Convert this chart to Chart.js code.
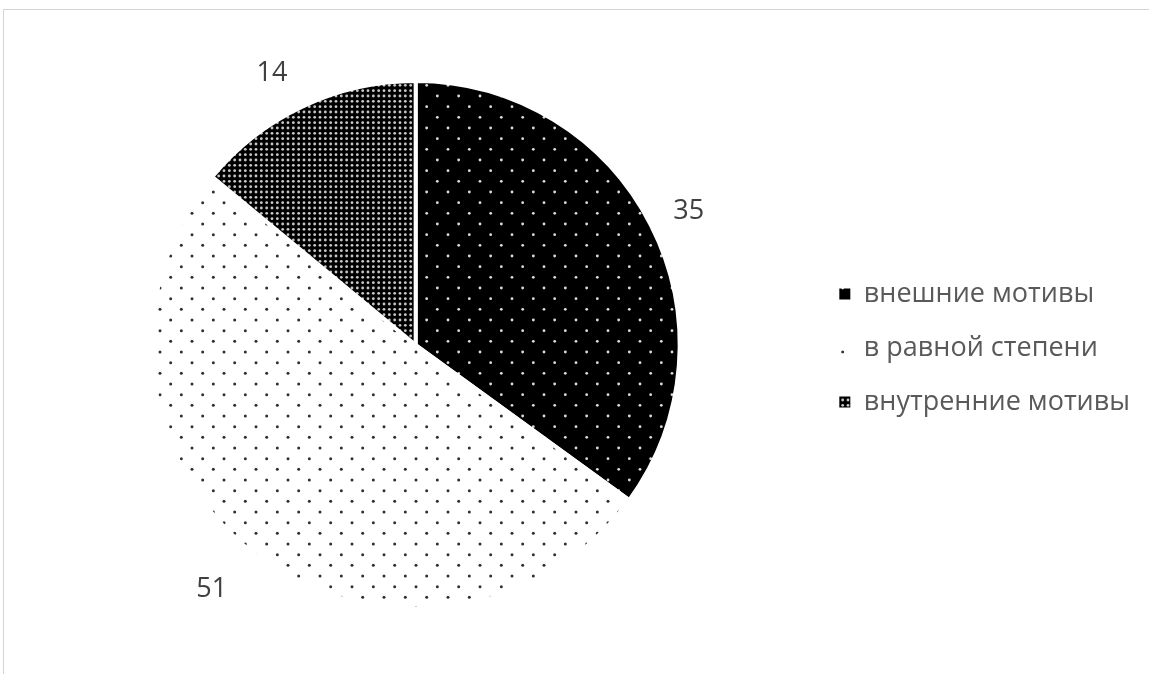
<!DOCTYPE html>
<html>
<head>
<meta charset="utf-8">
<script src="https://cdn.jsdelivr.net/npm/chart.js@4.4.0/dist/chart.umd.min.js"></script>
<style>
    html, body { margin: 0; padding: 0; background: #fff; overflow: hidden; }
    #frame { position: absolute; left: 3px; top: 9px; width: 2000px; height: 2000px; border-top: 1px solid #d4d4d4; border-left: 1px solid #d4d4d4; }
    #wrap { position: absolute; left: 0; top: 0; width: 1149px; height: 674px; }
</style>
</head>
<body>
<div id="frame"></div>
<div id="wrap"><canvas id="myChart" width="1149" height="674"></canvas></div>
<script>
// DATA
const categories = ['внешние мотивы', 'в равной степени', 'внутренние мотивы'];
const values = [35, 51, 14];

// value labels: distance outside the slice edge, and a small turn (degrees)
const labelGap = [40, 54, 43];
const labelTurn = [0.9, 2.1, -2.7];

// pattern fills (dots, like the excel pattern fills)
function makePattern(bg, dot, radius, perTile, staggered) {
    const c = document.createElement('canvas');
    c.width = 64;
    c.height = 64;
    const g = c.getContext('2d');
    g.fillStyle = bg;
    g.fillRect(0, 0, 64, 64);
    g.fillStyle = dot;
    const step = 64 / perTile;
    for (let i = 0; i <= perTile; i++) {
        for (let j = 0; j <= perTile; j++) {
            g.beginPath();
            g.arc(i * step, j * step, radius, 0, Math.PI * 2);
            g.fill();
            if (staggered) {
                g.beginPath();
                g.arc(i * step + step / 2, j * step + step / 2, radius, 0, Math.PI * 2);
                g.fill();
            }
        }
    }
    return g.createPattern(c, 'repeat');
}

const fills = [
    makePattern('#000000', '#dcdcdc', 1.4, 3, true),
    makePattern('#ffffff', '#303030', 1.5, 3, true),
    makePattern('#000000', '#c8c8c8', 1.4, 12, false)
];

// value labels outside the pie
const sliceLabels = {
    id: 'sliceLabels',
    afterDatasetsDraw(chart) {
        const ctx = chart.ctx;
        const meta = chart.getDatasetMeta(0);
        ctx.save();
        ctx.font = '27px "Open Sans"';
        ctx.fillStyle = '#404040';
        ctx.textAlign = 'center';
        ctx.textBaseline = 'middle';
        meta.data.forEach(function (arc, i) {
            const p = arc.getProps(['x', 'y', 'startAngle', 'endAngle', 'outerRadius'], true);
            const mid = (p.startAngle + p.endAngle) / 2 + labelTurn[i] * Math.PI / 180;
            const d = p.outerRadius + labelGap[i];
            ctx.fillText(String(values[i]), p.x + Math.cos(mid) * d, p.y + Math.sin(mid) * d);
        });
        ctx.restore();
    }
};

var config = {
    type: 'pie',
    data: {
        labels: categories,
        datasets: [{
            data: values,
            backgroundColor: fills,
            borderColor: '#ffffff',
            borderWidth: 4
        }]
    },
    options: {
        responsive: false,
        animation: false,
        events: [],
        radius: 264,
        layout: {
            padding: { left: 19, right: 9, top: 20, bottom: 4 }
        },
        plugins: {
            tooltip: { enabled: false },
            legend: {
                position: 'right',
                // empty title only to push the items a few px down
                title: { display: true, text: '', font: { size: 5 }, padding: 0 },
                labels: {
                    boxWidth: 11,
                    boxHeight: 11,
                    padding: 27,
                    color: '#595959',
                    font: { family: '"Open Sans"', size: 27 },
                    generateLabels: function (chart) {
                        return Chart.overrides.pie.plugins.legend.labels.generateLabels(chart).map(function (l) {
                            l.lineWidth = 0;
                            l.strokeStyle = 'rgba(0,0,0,0)';
                            return l;
                        });
                    }
                }
            }
        }
    },
    plugins: [sliceLabels]
};

var myChart = new Chart(document.getElementById('myChart'), config);
</script>
</body>
</html>
